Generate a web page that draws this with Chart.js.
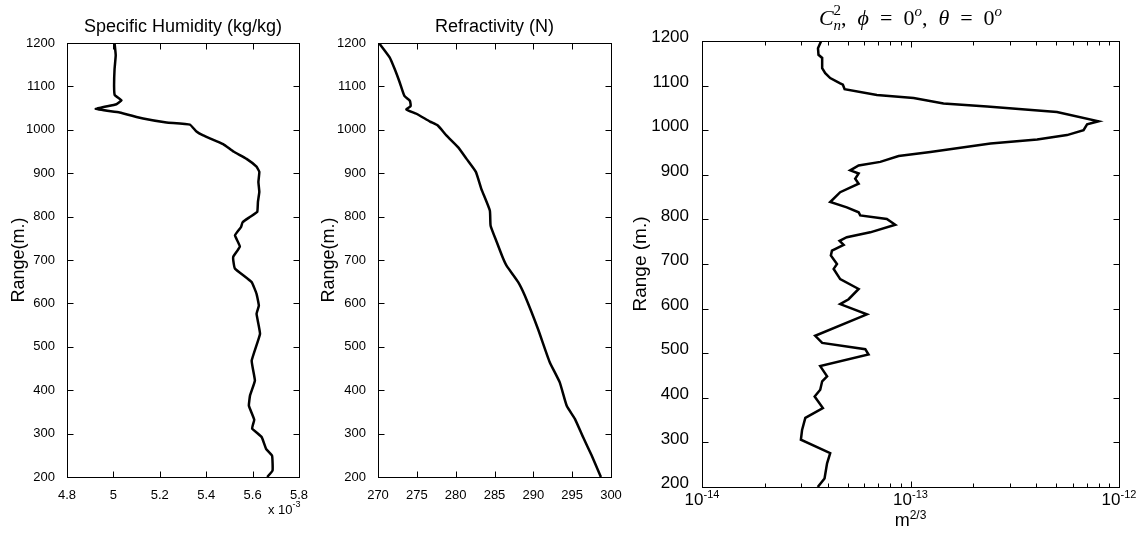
<!DOCTYPE html>
<html>
<head>
<meta charset="utf-8">
<script src="https://cdn.jsdelivr.net/npm/chart.js@4.4.1/dist/chart.umd.min.js"></script>
<style>
  html, body { margin: 0; padding: 0; background: #fff; }
  #wrap { position: relative; width: 1148px; height: 537px; }
  #wrap canvas { position: absolute; left: 0; top: 0; }
</style>
</head>
<body>
<div id="wrap">
  <canvas id="hum" width="1148" height="537"></canvas>
  <canvas id="ref" width="1148" height="537"></canvas>
  <canvas id="cn2" width="1148" height="537"></canvas>
</div>
<script>
// tick labels
const rangeTicks = [200, 300, 400, 500, 600, 700, 800, 900, 1000, 1100, 1200];
const humTicks = [4.8, 5, 5.2, 5.4, 5.6, 5.8];          // x 10^-3
const refTicks = [270, 275, 280, 285, 290, 295, 300];
const cn2Ticks = [1e-14, 1e-13, 1e-12];
const cn2Minor = [1e-14, 1e-13].flatMap(d => [2, 3, 4, 5, 6, 7, 8, 9].map(k => k * d));

// specific humidity profile (kg/kg, in units of 1e-3)
const humRange = [1200, 1172, 1140, 1100, 1080, 1068, 1059, 1048, 1040, 1026, 1017, 1012, 996, 987, 967,
  950, 933, 915, 903, 880, 857, 834, 811, 799, 787, 776, 757, 731, 708, 698, 680, 649, 622, 595, 576,
  530, 468, 422, 388, 364, 332, 312, 292, 265, 249, 215, 200];
const humidity = [5.005, 5.01, 5.005, 5.003, 5.006, 5.035, 5.013, 4.924, 5.027, 5.128, 5.229, 5.33, 5.358, 5.387, 5.473,
  5.517, 5.574, 5.617, 5.629, 5.625, 5.629, 5.623, 5.62, 5.588, 5.557, 5.55, 5.524, 5.545, 5.517, 5.517, 5.524, 5.596, 5.617, 5.627, 5.617,
  5.632, 5.596, 5.61, 5.589, 5.584, 5.607, 5.598, 5.639, 5.658, 5.684, 5.686, 5.663];

// refractivity profile (N units)
const refRange = [1200, 1167, 1140, 1109, 1078, 1067, 1055, 1047, 1037, 1019, 1010, 987, 960, 933, 903, 864,
  814, 779, 741, 704, 687, 649, 618, 541, 465, 418, 364, 334, 292, 250, 204, 200];
const refractivity = [270.13, 271.5, 272.15, 272.8, 273.4, 274.1, 274.2, 273.66, 274.95, 276.7, 277.7, 278.8, 280.3, 281.4, 282.6, 283.3,
  284.4, 284.5, 285.3, 286.1, 286.55, 288.05, 288.9, 290.6, 292.1, 293.4, 294.3, 295.35, 296.4, 297.5, 298.6, 298.7];

// Cn2 profile (m^-2/3)
const cn2Range = [1200, 1184, 1169, 1162, 1139, 1128, 1117, 1105, 1102, 1092, 1079, 1072, 1060, 1053, 1041, 1020,
  1013, 1000, 989, 979, 970, 951, 942, 929, 921, 910, 903, 891, 880, 861, 839, 827, 816, 809, 801, 788, 771,
  760, 752, 743, 730, 719, 700, 689, 666, 644, 621, 610, 587, 539, 523, 509, 497, 471, 448, 437, 418, 403,
  377, 355, 328, 306, 276, 253, 219, 200];
const cn2 = [3.73e-14, 3.60e-14, 3.62e-14, 3.77e-14, 3.77e-14, 3.90e-14, 4.12e-14, 4.60e-14, 4.74e-14, 4.83e-14, 6.9e-14, 1.035e-13, 1.44e-13, 2.33e-13, 5.04e-13, 7.98e-13,
  7.03e-13, 6.76e-13, 5.63e-13, 4.05e-13, 2.42e-13, 1.245e-13, 8.77e-14, 7.16e-14, 5.64e-14, 5.14e-14, 5.64e-14, 5.43e-14, 5.64e-14, 4.60e-14, 4.12e-14, 4.95e-14, 5.64e-14, 5.74e-14, 7.7e-14, 8.45e-14, 6.41e-14,
  4.95e-14, 4.57e-14, 4.78e-14, 4.20e-14, 4.15e-14, 4.44e-14, 4.28e-14, 4.60e-14, 5.64e-14, 5.05e-14, 4.60e-14, 6.18e-14, 3.49e-14, 3.77e-14, 6.07e-14, 6.29e-14, 3.69e-14, 3.98e-14, 3.77e-14, 3.69e-14, 3.47e-14,
  3.80e-14, 3.13e-14, 3.02e-14, 2.98e-14, 4.12e-14, 3.98e-14, 3.87e-14, 3.59e-14];

const SANS = '"Liberation Sans", Arial, Helvetica, sans-serif';
const SERIF = '"Liberation Serif", "DejaVu Serif", serif';

// draw a run of text pieces: [text, font, dy, advances]
function rich(ctx, parts, x, y, align) {
  let w = 0;
  const widths = parts.map(p => {
    ctx.font = p[1];
    const pw = ctx.measureText(p[0]).width;
    if (p[3] !== false) w += pw;
    return pw;
  });
  let cx = align === 'center' ? x - w / 2 : x;
  ctx.save();
  ctx.fillStyle = '#000';
  ctx.textAlign = 'left';
  ctx.textBaseline = 'alphabetic';
  parts.forEach((p, i) => {
    ctx.font = p[1];
    ctx.fillText(p[0], cx, y + (p[2] || 0));
    if (p[3] !== false) cx += widths[i];
  });
  ctx.restore();
}

// box around the plot + inward ticks on all four sides (matlab style)
function frame(xTicks, yTicks, xMinor, extra) {
  return {
    id: 'frame',
    afterDraw(chart) {
      const { ctx, chartArea: a, scales } = chart;
      const L = Math.round(a.left) + 0.5, R = Math.round(a.right) + 0.5;
      const T = Math.round(a.top) + 0.5, B = Math.round(a.bottom) + 0.5;
      ctx.save();
      ctx.strokeStyle = '#000';
      ctx.lineWidth = 1;
      ctx.beginPath();
      const xt = (v, len) => {
        const p = Math.round(scales.x.getPixelForValue(v)) + 0.5;
        ctx.moveTo(p, T); ctx.lineTo(p, T + len);
        ctx.moveTo(p, B); ctx.lineTo(p, B - len);
      };
      xTicks.forEach(v => xt(v, 6));
      (xMinor || []).forEach(v => xt(v, 4));
      yTicks.forEach(v => {
        const p = Math.round(scales.y.getPixelForValue(v)) + 0.5;
        ctx.moveTo(L, p); ctx.lineTo(L + 6, p);
        ctx.moveTo(R, p); ctx.lineTo(R - 6, p);
      });
      ctx.stroke();
      ctx.strokeRect(L, T, R - L, B - T);
      ctx.restore();
      if (extra) extra(chart);
    }
  };
}

function profile(id, o) {
  return new Chart(document.getElementById(id), {
    type: 'scatter',
    data: {
      datasets: [{
        data: o.xs.map((v, i) => ({ x: v, y: o.ys[i] })),
        showLine: true,
        borderColor: '#000',
        borderWidth: 2.5,
        pointRadius: 0,
        tension: o.tension,
        fill: false
      }]
    },
    options: {
      responsive: false,
      animation: false,
      devicePixelRatio: 1,
      layout: { padding: o.padding },
      plugins: { legend: { display: false }, tooltip: { enabled: false }, title: { display: false } },
      scales: {
        x: Object.assign({
          grid: { display: false },
          border: { display: false },
          afterBuildTicks: s => { s.ticks = o.xTicks.map(v => ({ value: v })); },
          afterFit: s => { s.height = o.xHeight; },
          ticks: { color: '#000', padding: 3, maxRotation: 0, font: { family: SANS, size: 13 }, callback: v => String(v) }
        }, o.x),
        y: {
          min: 200, max: 1200,
          grid: { display: false },
          border: { display: false },
          afterBuildTicks: s => { s.ticks = rangeTicks.map(v => ({ value: v })); },
          afterFit: s => { s.width = o.yWidth; },
          ticks: { color: '#000', padding: o.yPad, labelOffset: o.yOffset || 0, font: { family: SANS, size: o.ySize }, callback: v => String(v) },
          title: { display: true, text: o.yTitle, color: '#000', padding: 0, font: { family: SANS, size: o.yTitleSize, lineHeight: 1 } }
        }
      }
    },
    plugins: [frame(o.xTicks, rangeTicks, o.xMinor, o.extra)]
  });
}

profile('hum', {
  xs: humidity, ys: humRange, tension: 0.1,
  padding: { left: 10, right: 1148 - 299, top: 43, bottom: 0 },
  yWidth: 57, xHeight: 60, yPad: 4, ySize: 13, yTitle: 'Range(m.)', yTitleSize: 18,
  xTicks: humTicks,
  x: { type: 'linear', min: 4.8, max: 5.8 },
  extra(chart) {
    const { ctx, chartArea: a } = chart;
    rich(ctx, [['Specific Humidity (kg/kg)', '18px ' + SANS]], (a.left + a.right) / 2, 32, 'center');
    rich(ctx, [['x 10', '13px ' + SANS], ['-3', '9px ' + SANS, -7]], 268, 514);
  }
});

profile('ref', {
  xs: refractivity, ys: refRange, tension: 0.15,
  padding: { left: 320, right: 1148 - 611, top: 43, bottom: 0 },
  yWidth: 58, xHeight: 60, yPad: 4, ySize: 13, yTitle: 'Range(m.)', yTitleSize: 18,
  xTicks: refTicks,
  x: { type: 'linear', min: 270, max: 300 },
  extra(chart) {
    const { ctx, chartArea: a } = chart;
    rich(ctx, [['Refractivity (N)', '18px ' + SANS]], (a.left + a.right) / 2, 32, 'center');
  }
});

profile('cn2', {
  xs: cn2, ys: cn2Range, tension: 0,
  padding: { left: 631, right: 1148 - 1119, top: 41, bottom: 0 },
  yWidth: 71, xHeight: 50, yPad: 5, yOffset: -3.5, ySize: 17, yTitle: 'Range (m.)', yTitleSize: 19,
  xTicks: cn2Ticks, xMinor: cn2Minor,
  x: { type: 'logarithmic', min: 1e-14, max: 1e-12, ticks: { display: false } },
  extra(chart) {
    const { ctx, chartArea: a, scales } = chart;
    const rm = '22px ' + SERIF, it = 'italic 22px ' + SERIF;
    const sIt = 'italic 15px ' + SERIF, sRm = '15px ' + SERIF;
    const eq = '\u2002=\u2002', cm = ',\u2002';
    rich(ctx, [
      ['C', it], ['2', sRm, -10, false], ['n', sIt, 5], [cm, rm],
      ['\u03D5', it], [eq, rm], ['0', rm], ['o', sIt, -9], [cm, rm],
      ['\u03B8', it], [eq, rm], ['0', rm], ['o', sIt, -9]
    ], (a.left + a.right) / 2, 25, 'center');
    const exps = ['-14', '-13', '-12'];
    cn2Ticks.forEach((v, i) => {
      rich(ctx, [['10', '17px ' + SANS], [exps[i], '11px ' + SANS, -7]], scales.x.getPixelForValue(v), 505, 'center');
    });
    rich(ctx, [['m', '18px ' + SANS], ['2/3', '12px ' + SANS, -7]], (a.left + a.right) / 2, 526, 'center');
  }
});
</script>
</body>
</html>
